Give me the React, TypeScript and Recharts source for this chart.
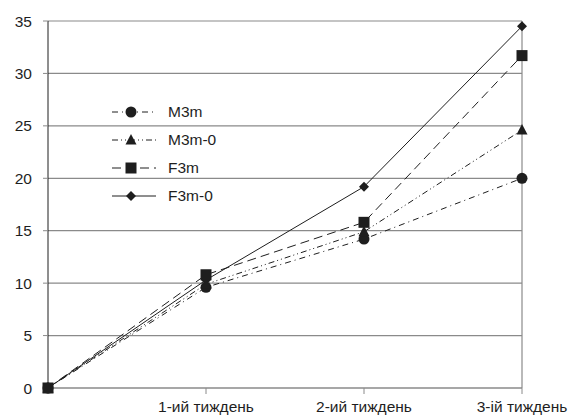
import React from "react";
import { LineChart, Line, XAxis, YAxis, CartesianGrid, ReferenceLine } from "recharts";

const weeks = ["", "1-ий тиждень", "2-ий тиждень", "3-ій тиждень"];
const m3m = [0, 9.6, 14.2, 20.0];
const m3m0 = [0, 9.9, 14.9, 24.6];
const f3m = [0, 10.8, 15.8, 31.7];
const f3m0 = [0, 10.3, 19.2, 34.5];
const yTicks = [0, 5, 10, 15, 20, 25, 30, 35];

const data = weeks.map((w, i) => ({ week: w, m3m: m3m[i], m3m0: m3m0[i], f3m: f3m[i], f3m0: f3m0[i] }));

const INK = "#1e1e1e";
const GRID = "#8a8a8a";
const FONT = "'Liberation Sans', Arial, sans-serif";
const FS = 15.5;

type Shape = "circle" | "triangle" | "square" | "diamond";

const series: { key: string; name: string; dash?: string; shape: Shape }[] = [
  { key: "m3m", name: "M3m", dash: "6 4 1 4", shape: "circle" },
  { key: "m3m0", name: "M3m-0", dash: "6 3 1 3 1 3", shape: "triangle" },
  { key: "f3m", name: "F3m", dash: "9 5", shape: "square" },
  { key: "f3m0", name: "F3m-0", shape: "diamond" },
];

const Marker = ({ cx, cy, shape }: { cx: number; cy: number; shape: Shape }) => {
  if (cx == null || cy == null) return null;
  if (shape === "circle") return <circle cx={cx} cy={cy} r={5.5} fill={INK} />;
  if (shape === "square") return <rect x={cx - 5.5} y={cy - 5.5} width={11} height={11} fill={INK} />;
  if (shape === "triangle")
    return <polygon points={`${cx},${cy - 6} ${cx + 5.5},${cy + 4.5} ${cx - 5.5},${cy + 4.5}`} fill={INK} />;
  return <polygon points={`${cx},${cy - 5} ${cx + 5},${cy} ${cx},${cy + 5} ${cx - 5},${cy}`} fill={INK} />;
};

// legend is drawn as an overlay inside the plot, like the original
const LegendBox = () => (
  <div style={{ position: "absolute", left: 100, top: 98, fontFamily: FONT, fontSize: FS, color: INK }}>
    {series.map((s) => (
      <div key={s.key} style={{ display: "flex", alignItems: "center", height: 28 }}>
        <svg width={64} height={16}>
          <line x1={12} y1={8} x2={56} y2={8} stroke={INK} strokeWidth={1} strokeDasharray={s.dash} />
          <Marker cx={31} cy={8} shape={s.shape} />
        </svg>
        <span style={{ marginLeft: 4 }}>{s.name}</span>
      </div>
    ))}
  </div>
);

export default function App() {
  return (
    <div style={{ position: "absolute", left: 0, top: 0, width: 580, height: 419, background: "#fff" }}>
      <LineChart width={580} height={419} data={data} margin={{ top: 21, right: 58, bottom: 1, left: 8 }}>
        <CartesianGrid vertical={false} stroke={GRID} strokeWidth={1.2} />
        <XAxis
          dataKey="week"
          interval={0}
          height={30}
          axisLine={{ stroke: GRID, strokeWidth: 1.2 }}
          tickLine={{ stroke: GRID }}
          tickSize={6}
          tickMargin={7}
          tick={{ fill: INK, fontSize: FS, fontFamily: FONT }}
        />
        <YAxis
          domain={[0, 35]}
          ticks={yTicks}
          width={40}
          axisLine={{ stroke: INK }}
          tickLine={{ stroke: GRID }}
          tickSize={5}
          tickMargin={11}
          tick={{ fill: INK, fontSize: FS, fontFamily: FONT }}
        />
        <ReferenceLine x="3-ій тиждень" stroke={GRID} strokeWidth={1.2} />
        {series.map((s) => (
          <Line
            key={s.key}
            dataKey={s.key}
            name={s.name}
            type="linear"
            stroke={INK}
            strokeWidth={1}
            strokeDasharray={s.dash}
            dot={(props: any) => <Marker key={props.index} cx={props.cx} cy={props.cy} shape={s.shape} />}
            activeDot={false}
            isAnimationActive={false}
          />
        ))}
      </LineChart>
      <LegendBox />
    </div>
  );
}
